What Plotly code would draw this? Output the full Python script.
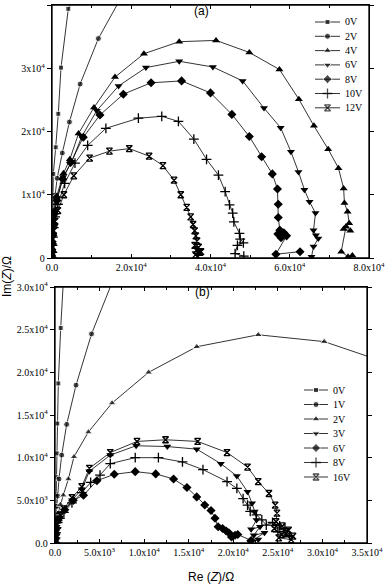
import plotly.graph_objects as go

# ---------------- Panel (a) data ----------------
# (last point of 0V / 2V is where the curve leaves the frame: drawn without a marker)
a_names = ["0V", "2V", "4V", "6V", "8V", "10V", "12V"]
a0_x = [50, 60, 80, 100, 120, 150, 180, 220, 330, 930, 1590, 2270, 4115, 4540]
a0_y = [0, 800, 1800, 3000, 4500, 6000, 7500, 10000, 13300, 17500, 22800, 30100, 39400, 40000]
a2_x = [50, 80, 120, 180, 250, 400, 700, 1300, 2600, 4400, 7100, 11700, 16400]
a2_y = [0, 1000, 2200, 3500, 5000, 7000, 9500, 12600, 16600, 21500, 27500, 34700, 40000]
a4_x = [50, 80, 120, 200, 350, 600, 1200, 2900, 4500, 6700, 10600, 15900, 23200, 32100, 41400,
        49800, 57400, 62300, 66100, 69700, 72300, 73600, 73800, 74600, 75000, 73600, 75300,
        74200, 73000, 74700, 75800]
a4_y = [0, 1200, 2500, 4000, 5600, 7500, 9800, 13400, 15600, 19700, 23800, 28600, 32300, 34200, 34400,
        32500, 29800, 25100, 20900, 17200, 14200, 11000, 8700, 7300, 5500, 4600, 4300,
        5000, 1000, 200, 400]
a6_x = [50, 80, 130, 220, 380, 650, 1250, 2800, 5000, 7500, 11300, 16800, 23700, 32100, 40600,
        48100, 53500, 57700, 60300, 62200, 63700, 65000, 66500, 66000, 66600, 67200, 66000, 65500]
a6_y = [0, 1100, 2400, 3800, 5300, 7200, 9400, 12800, 15200, 19200, 23300, 27200, 30100, 31100, 30200,
        28000, 23700, 20600, 16800, 13600, 10800, 8900, 7100, 4400, 3600, 3100, 1800, 200]
a8_x = [50, 80, 130, 220, 380, 650, 1250, 2700, 4700, 7900, 12100, 18000, 25000, 32700, 40000,
        45400, 49800, 52900, 55600, 56900, 57100, 57100, 57500, 57000, 58500, 57800, 59200,
        56500, 62600]
a8_y = [0, 1000, 2200, 3600, 5100, 7000, 9100, 12500, 15100, 19100, 22600, 25900, 27700, 28000, 26100,
        22700, 19200, 16000, 13300, 10900, 8500, 6400, 4400, 3800, 4000, 3200, 3500,
        600, 1000]
a10_x = [50, 90, 150, 250, 450, 800, 1500, 3200, 5800, 9000, 13600, 21800, 27700, 31900, 35800,
         39000, 42000, 43700, 44800, 45600, 45900, 47300, 47500, 48300, 46800, 46200, 48400]
a10_y = [0, 900, 2000, 3300, 4800, 6500, 8500, 11800, 15000, 17800, 20500, 22100, 22400, 21600, 18800,
         15600, 13100, 10500, 8400, 7100, 5700, 3900, 3000, 2400, 2000, 700, 300]
a12_x = [50, 100, 160, 260, 450, 800, 1500, 3000, 5500, 9500, 14500, 19500, 24500, 28000, 30800,
         32500, 34000, 35000, 35600, 36000, 36300, 36600, 36000, 37000, 36400, 37300, 36200, 37600, 36800]
a12_y = [0, 800, 1800, 3000, 4300, 5800, 7500, 10000, 13000, 15800, 16900, 17300, 16100, 14600, 12300,
         10000, 8000, 6500, 5300, 4300, 3500, 2700, 2000, 1700, 1200, 900, 500, 1000, 200]

# ---------------- Panel (b) data ----------------
# (last point of 0V / 1V / 2V is where the curve leaves the frame: drawn without a marker)
b_names = ["0V", "1V", "2V", "3V", "6V", "8V", "16V"]
b0_x = [30, 40, 55, 70, 90, 110, 140, 170, 190, 260, 370, 640, 900]
b0_y = [0, 600, 1400, 2300, 3300, 4300, 5700, 7700, 10500, 14000, 18700, 25200, 30000]
b1_x = [30, 45, 60, 80, 110, 150, 200, 300, 450, 750, 1310, 2360, 4100, 6200]
b1_y = [0, 500, 1100, 1800, 2600, 3400, 4300, 5500, 7500, 10300, 13900, 18500, 24500, 30000]
b2_x = [30, 50, 80, 120, 200, 350, 600, 930, 1500, 2130, 3740, 6400, 10500, 15900, 22800, 30200, 35000]
b2_y = [0, 500, 1100, 1800, 2600, 3500, 4500, 5600, 7500, 10100, 13000, 16400, 20000, 23000, 24400, 23600, 21900]
b3_x = [30, 60, 100, 170, 300, 550, 1000, 1900, 3000, 3850, 6200, 9100, 12600, 15900, 18600, 20400,
        21600, 22100, 22400, 22600, 22000, 23000, 22300, 23500, 21900, 22800]
b3_y = [0, 700, 1300, 1900, 2500, 3000, 3800, 5000, 6300, 8400, 10300, 11400, 11300, 11000, 9300, 7850,
        6000, 4650, 3700, 2700, 1600, 1900, 900, 1200, 100, 400]
b6_x = [30, 60, 100, 170, 370, 1100, 2050, 3200, 4700, 6650, 9000, 11300, 13300, 14800, 15900, 16800,
        17500, 17950, 18300, 18800, 19500, 20200, 19200, 19800, 20500, 22000]
b6_y = [0, 500, 1000, 1700, 2700, 3900, 5000, 5600, 7300, 8050, 8360, 8100, 7500, 6500, 5400, 4450,
        3800, 2900, 1900, 1700, 1200, 900, 1400, 700, 1000, 300]
b8_x = [30, 60, 100, 170, 300, 550, 1000, 1900, 3000, 4000, 5050, 6200, 9000, 11600, 14300, 16600,
        19300, 20400, 21100, 21600, 21900, 22600, 23200, 23700, 24400, 25200, 25800, 26300, 25000]
b8_y = [0, 600, 1200, 1800, 2400, 2900, 3600, 4700, 5900, 7100, 7960, 9300, 10000, 10000, 9500, 8600,
        7200, 6400, 5200, 4450, 3700, 3300, 2700, 2100, 2400, 2000, 1700, 900, 1300]
b16_x = [30, 60, 100, 170, 300, 550, 1000, 1900, 3000, 3850, 6200, 9200, 12400, 16000, 19300, 21600,
         22800, 24000, 24700, 24900, 24800, 25500, 24600, 26200, 25400, 26700, 25100, 26500, 25900]
b16_y = [0, 800, 1500, 2100, 2700, 3300, 4000, 5300, 6600, 8750, 10600, 11900, 12100, 11900, 10600, 8900,
         7200, 5800, 4450, 3500, 2500, 2000, 1700, 1500, 1000, 800, 600, 400, 1100]

a_exits = [True, True, False, False, False, False, False]
b_exits = [True, True, True, False, False, False, False]

# tick positions and labels
a_xticks = [0, 20000, 40000, 60000, 80000]
a_xminor = [10000, 30000, 50000, 70000]
a_xlabels = ["0.0", "2.0x10<sup>4</sup>", "4.0x10<sup>4</sup>", "6.0x10<sup>4</sup>", "8.0x10<sup>4</sup>"]
a_yticks = [0, 10000, 20000, 30000, 40000]
a_ylabels = ["0", "1x10<sup>4</sup>", "2x10<sup>4</sup>", "3x10<sup>4</sup>", "4x10<sup>4</sup>"]
b_xticks = [0, 5000, 10000, 15000, 20000, 25000, 30000, 35000]
b_xminor = [2500, 7500, 12500, 17500, 22500, 27500, 32500]
b_xlabels = ["0.0", "5.0x10<sup>3</sup>", "1.0x10<sup>4</sup>", "1.5x10<sup>4</sup>", "2.0x10<sup>4</sup>",
             "2.5x10<sup>4</sup>", "3.0x10<sup>4</sup>", "3.5x10<sup>4</sup>"]
b_yticks = [0, 5000, 10000, 15000, 20000, 25000, 30000]
b_ylabels = ["0.0", "5.0x10<sup>3</sup>", "1.0x10<sup>4</sup>", "1.5x10<sup>4</sup>", "2.0x10<sup>4</sup>",
             "2.5x10<sup>4</sup>", "3.0x10<sup>4</sup>"]

symbols = ["square", "circle", "triangle-up", "triangle-down", "diamond", "cross-thin-open", "hourglass-open"]
sizes = [5, 6, 7, 7, 7, 7, 6]

a_series = [(a0_x, a0_y), (a2_x, a2_y), (a4_x, a4_y), (a6_x, a6_y), (a8_x, a8_y), (a10_x, a10_y), (a12_x, a12_y)]
b_series = [(b0_x, b0_y), (b1_x, b1_y), (b2_x, b2_y), (b3_x, b3_y), (b6_x, b6_y), (b8_x, b8_y), (b16_x, b16_y)]

W, H = 387, 585
PA = (52, 369, 5, 258, 80000, 40000)
PB = (55, 367, 287, 543, 35000, 30000)

fig = go.Figure()


def mk(sym, size):
    m = dict(symbol=sym, size=size, color="black")
    if sym.endswith("open"):
        m["line"] = dict(color="black", width=1.3)
    return m


def add_series(series, names, exits, xa, ya):
    for i, (xs, ys) in enumerate(series):
        m = mk(symbols[i], sizes[i])
        if exits[i]:
            m["size"] = [sizes[i]] * (len(xs) - 1) + [0]
        fig.add_trace(go.Scatter(x=xs, y=ys, mode="lines+markers", xaxis=xa, yaxis=ya,
                                 line=dict(color="black", width=0.8), marker=m,
                                 name=names[i], showlegend=False))


add_series(a_series, a_names, a_exits, "x", "y")
add_series(b_series, b_names, b_exits, "x2", "y2")


def px2data(P, px, py):
    l, r, t, b, xm, ym = P
    return (px - l) / (r - l) * xm, (b - py) / (b - t) * ym


annotations = []
legends = [(a_names, PA, "x", "y", 315, 340, 22, 14.3), (b_names, PB, "x2", "y2", 304, 328, 390, 14.5)]
for names, P, xa, ya, x0, x1, y0, dy in legends:
    for i, nm in enumerate(names):
        yy = y0 + i * dy
        lx0, ly = px2data(P, x0, yy)
        lx1, _ = px2data(P, x1, yy)
        lxt, _ = px2data(P, x1 + 3, yy)
        fig.add_trace(go.Scatter(x=[lx0, (lx0 + lx1) / 2, lx1], y=[ly, ly, ly], mode="lines+markers",
                                 xaxis=xa, yaxis=ya, line=dict(color="black", width=0.8),
                                 marker=dict(mk(symbols[i], sizes[i]), size=[0, sizes[i], 0]),
                                 showlegend=False, hoverinfo="skip"))
        annotations.append(dict(x=lxt, y=ly, xref=xa, yref=ya, text=nm, showarrow=False,
                                xanchor="left", yanchor="middle",
                                font=dict(family="Liberation Serif", size=10, color="black")))

tickfont = dict(family="Liberation Serif", size=10, color="black")
axis_common = dict(showline=True, linecolor="black", linewidth=1.3, mirror="all", showgrid=False,
                   zeroline=False, tickfont=tickfont, ticklen=4, tickwidth=1, tickcolor="black",
                   automargin=False, tickmode="array")

fig.update_layout(
    width=W, height=H, margin=dict(l=0, r=0, t=0, b=0),
    paper_bgcolor="white", plot_bgcolor="white", showlegend=False,
    xaxis=dict(axis_common, domain=[PA[0] / W, PA[1] / W], range=[0, PA[4]], anchor="y",
               tickvals=a_xticks, ticktext=a_xlabels, ticks="inside",
               minor=dict(tickmode="array", tickvals=a_xminor, ticks="inside", ticklen=3,
                          tickcolor="black", showgrid=False)),
    yaxis=dict(axis_common, domain=[1 - PA[3] / H, 1 - PA[2] / H], range=[0, PA[5]], anchor="x",
               tickvals=a_yticks, ticktext=a_ylabels, ticks="outside"),
    xaxis2=dict(axis_common, domain=[PB[0] / W, PB[1] / W], range=[0, PB[4]], anchor="y2",
                tickvals=b_xticks, ticktext=b_xlabels, ticks="inside",
                minor=dict(tickmode="array", tickvals=b_xminor, ticks="inside", ticklen=3,
                           tickcolor="black", showgrid=False)),
    yaxis2=dict(axis_common, domain=[1 - PB[3] / H, 1 - PB[2] / H], range=[0, PB[5]], anchor="x2",
                tickvals=b_yticks, ticktext=b_ylabels, ticks="outside"),
    shapes=[
        dict(type="rect", xref="paper", yref="paper", x0=PA[0] / W, x1=PA[1] / W,
             y0=1 - PA[3] / H, y1=1 - PA[2] / H, line=dict(color="black", width=1.3), layer="above"),
        dict(type="rect", xref="paper", yref="paper", x0=PB[0] / W, x1=PB[1] / W,
             y0=1 - PB[3] / H, y1=1 - PB[2] / H, line=dict(color="black", width=1.3), layer="above"),
    ],
)

sans = dict(family="Liberation Sans", size=12, color="black")
annotations += [
    dict(x=201 / W, y=1 - 11 / H, xref="paper", yref="paper", text="(a)", showarrow=False,
         font=sans, xanchor="center", yanchor="middle"),
    dict(x=202 / W, y=1 - 292 / H, xref="paper", yref="paper", text="(b)", showarrow=False,
         font=sans, xanchor="center", yanchor="middle"),
    dict(x=7 / W, y=1 - 277 / H, xref="paper", yref="paper", text="Im(<i>Z</i>)/Ω", showarrow=False,
         font=sans, textangle=-90, xanchor="center", yanchor="middle"),
    dict(x=211 / W, y=1 - 577 / H, xref="paper", yref="paper", text="Re (<i>Z</i>)/Ω", showarrow=False,
         font=sans, xanchor="center", yanchor="middle"),
]
fig.update_layout(annotations=annotations)

fig.write_html("out.html", config={"displayModeBar": False},
               post_script="document.body.style.margin='0';")
